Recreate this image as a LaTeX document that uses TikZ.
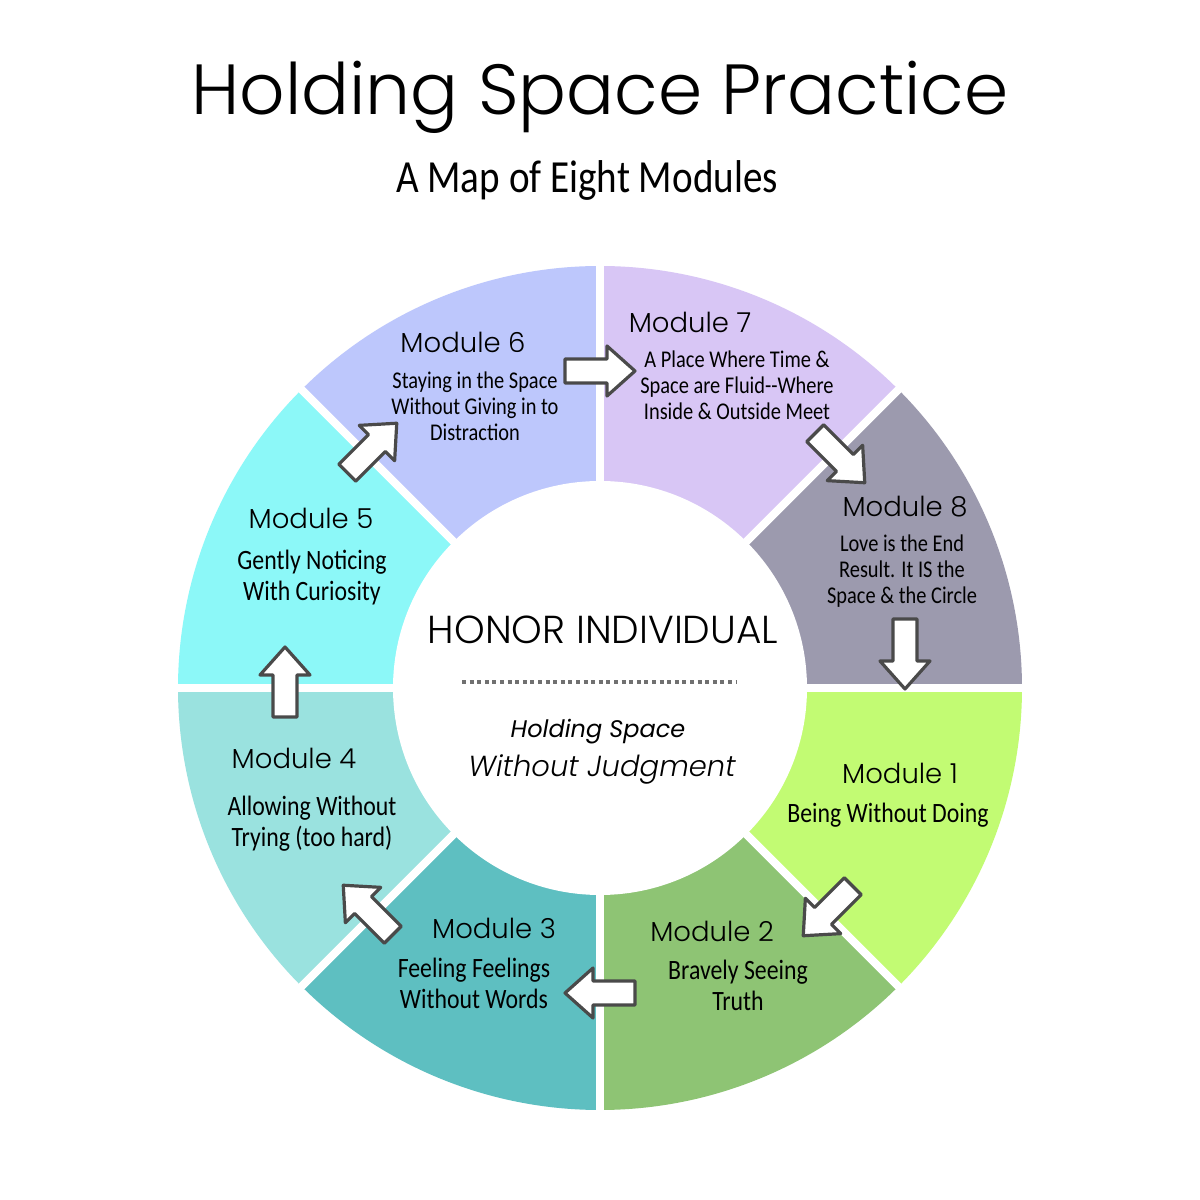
\documentclass[tikz,border=0pt]{standalone}
\usepackage{fontspec}
\setmainfont{Poppins}
\newfontfamily\poplight{Poppins Light}
\newfontfamily\hand[FakeStretch=0.85]{Carlito}
\definecolor{mA}{HTML}{C2FB73}
\definecolor{mB}{HTML}{8EC474}
\definecolor{mC}{HTML}{5EBFC1}
\definecolor{mD}{HTML}{9AE2DF}
\definecolor{mE}{HTML}{8CF8F8}
\definecolor{mF}{HTML}{BDC7FC}
\definecolor{mG}{HTML}{D8C6F5}
\definecolor{mH}{HTML}{9C9AAE}
\definecolor{arrowgray}{HTML}{4A4A4A}
\definecolor{dotgray}{HTML}{707070}
\newcommand\blockarr[3]{%
  \draw[blockarrow, shift={(#1,#2)}, rotate=#3]
    (-35,-12) -- (7,-12) -- (7,-25) -- (35,0) -- (7,25) -- (7,12) -- (-35,12) -- cycle;}
\begin{document}
\begin{tikzpicture}[x=1pt,y=1pt,
  modlbl/.style={font=\poplight\fontsize{27.5}{30}\selectfont, inner sep=0},
  desc/.style={font=\hand\fontsize{24}{26}\selectfont, align=center, inner sep=0},
  descbig/.style={font=\hand\fontsize{28}{31}\selectfont, align=center, inner sep=0},
  blockarrow/.style={draw=arrowgray, fill=white, line width=3.2pt, line join=round}]
\useasboundingbox (0,0) rectangle (1200,1200);
\fill[white] (0,0) rectangle (1200,1200);
\coordinate (C) at (600,512);
% sectors
\foreach \a/\c in {0/mH,45/mG,90/mF,135/mE,180/mD,225/mC,270/mB,315/mA}{
  \fill[\c] (C) -- ++(\a:422) arc[start angle=\a, end angle=\a+45, radius=422] -- cycle;}
\foreach \a in {0,45,...,315}{\draw[white, line width=8pt] (C) -- ++(\a:440);}
\fill[white] (C) circle[radius=207];
% title
\node[font=\poplight\fontsize{71}{80}\selectfont, inner sep=0] (title) at (600,1103) {Holding Space Practice};
\node[font=\hand\fontsize{46}{50}\selectfont, inner sep=0] (subtitle) at (587,1020) {A Map of Eight Modules};
% centre
\node[font=\poplight\fontsize{39}{42}\selectfont, inner sep=0] (honor) at (603,570) {HONOR INDIVIDUAL};
\draw[dotgray, line width=4pt, dash pattern=on 4pt off 3.6pt] (462,518) -- (737,518);
\node[font=\itshape\fontsize{24}{30}\selectfont, inner sep=0] (hs) at (598,468) {Holding Space};
\node[font=\poplight\itshape\fontsize{29}{34}\selectfont, inner sep=0] (wj) at (602,431) {Without Judgment};
% modules
\node[modlbl] (m6) at (463,858) {Module 6};
\node[desc] (d6) at (475,794) {Staying in the Space\\Without Giving in to\\Distraction};
\node[modlbl] (m7) at (690,878) {Module 7};
\node[desc] (d7) at (737,815) {A Place Where Time \&\\Space are Fluid-{}-Where\\Inside \& Outside Meet};
\node[modlbl] (m8) at (905,693) {Module 8};
\node[desc] (d8) at (902,629) {Love is the End\\Result. It IS the\\Space \& the Circle};
\node[modlbl] (m1) at (900,427) {Module 1};
\node[descbig] (d1) at (888,385) {Being Without Doing};
\node[modlbl] (m2) at (712,269) {Module 2};
\node[descbig] (d2) at (738,215) {Bravely Seeing\\Truth};
\node[modlbl] (m3) at (494,272) {Module 3};
\node[descbig] (d3) at (474,217) {Feeling Feelings\\Without Words};
\node[modlbl] (m4) at (294,442) {Module 4};
\node[descbig] (d4) at (312,376) {Allowing Without\\Trying (too hard)};
\node[modlbl] (m5) at (311,682) {Module 5};
\node[descbig] (d5) at (312,622) {Gently Noticing\\With Curiosity};
% arrows
\blockarr{600}{829}{0}
\blockarr{840}{742}{-45}
\blockarr{905}{546}{-90}
\blockarr{828}{289}{-135}
\blockarr{600}{207}{180}
\blockarr{368}{290}{135}
\blockarr{285}{518}{90}
\blockarr{372}{752}{45}
\end{tikzpicture}
\end{document}
